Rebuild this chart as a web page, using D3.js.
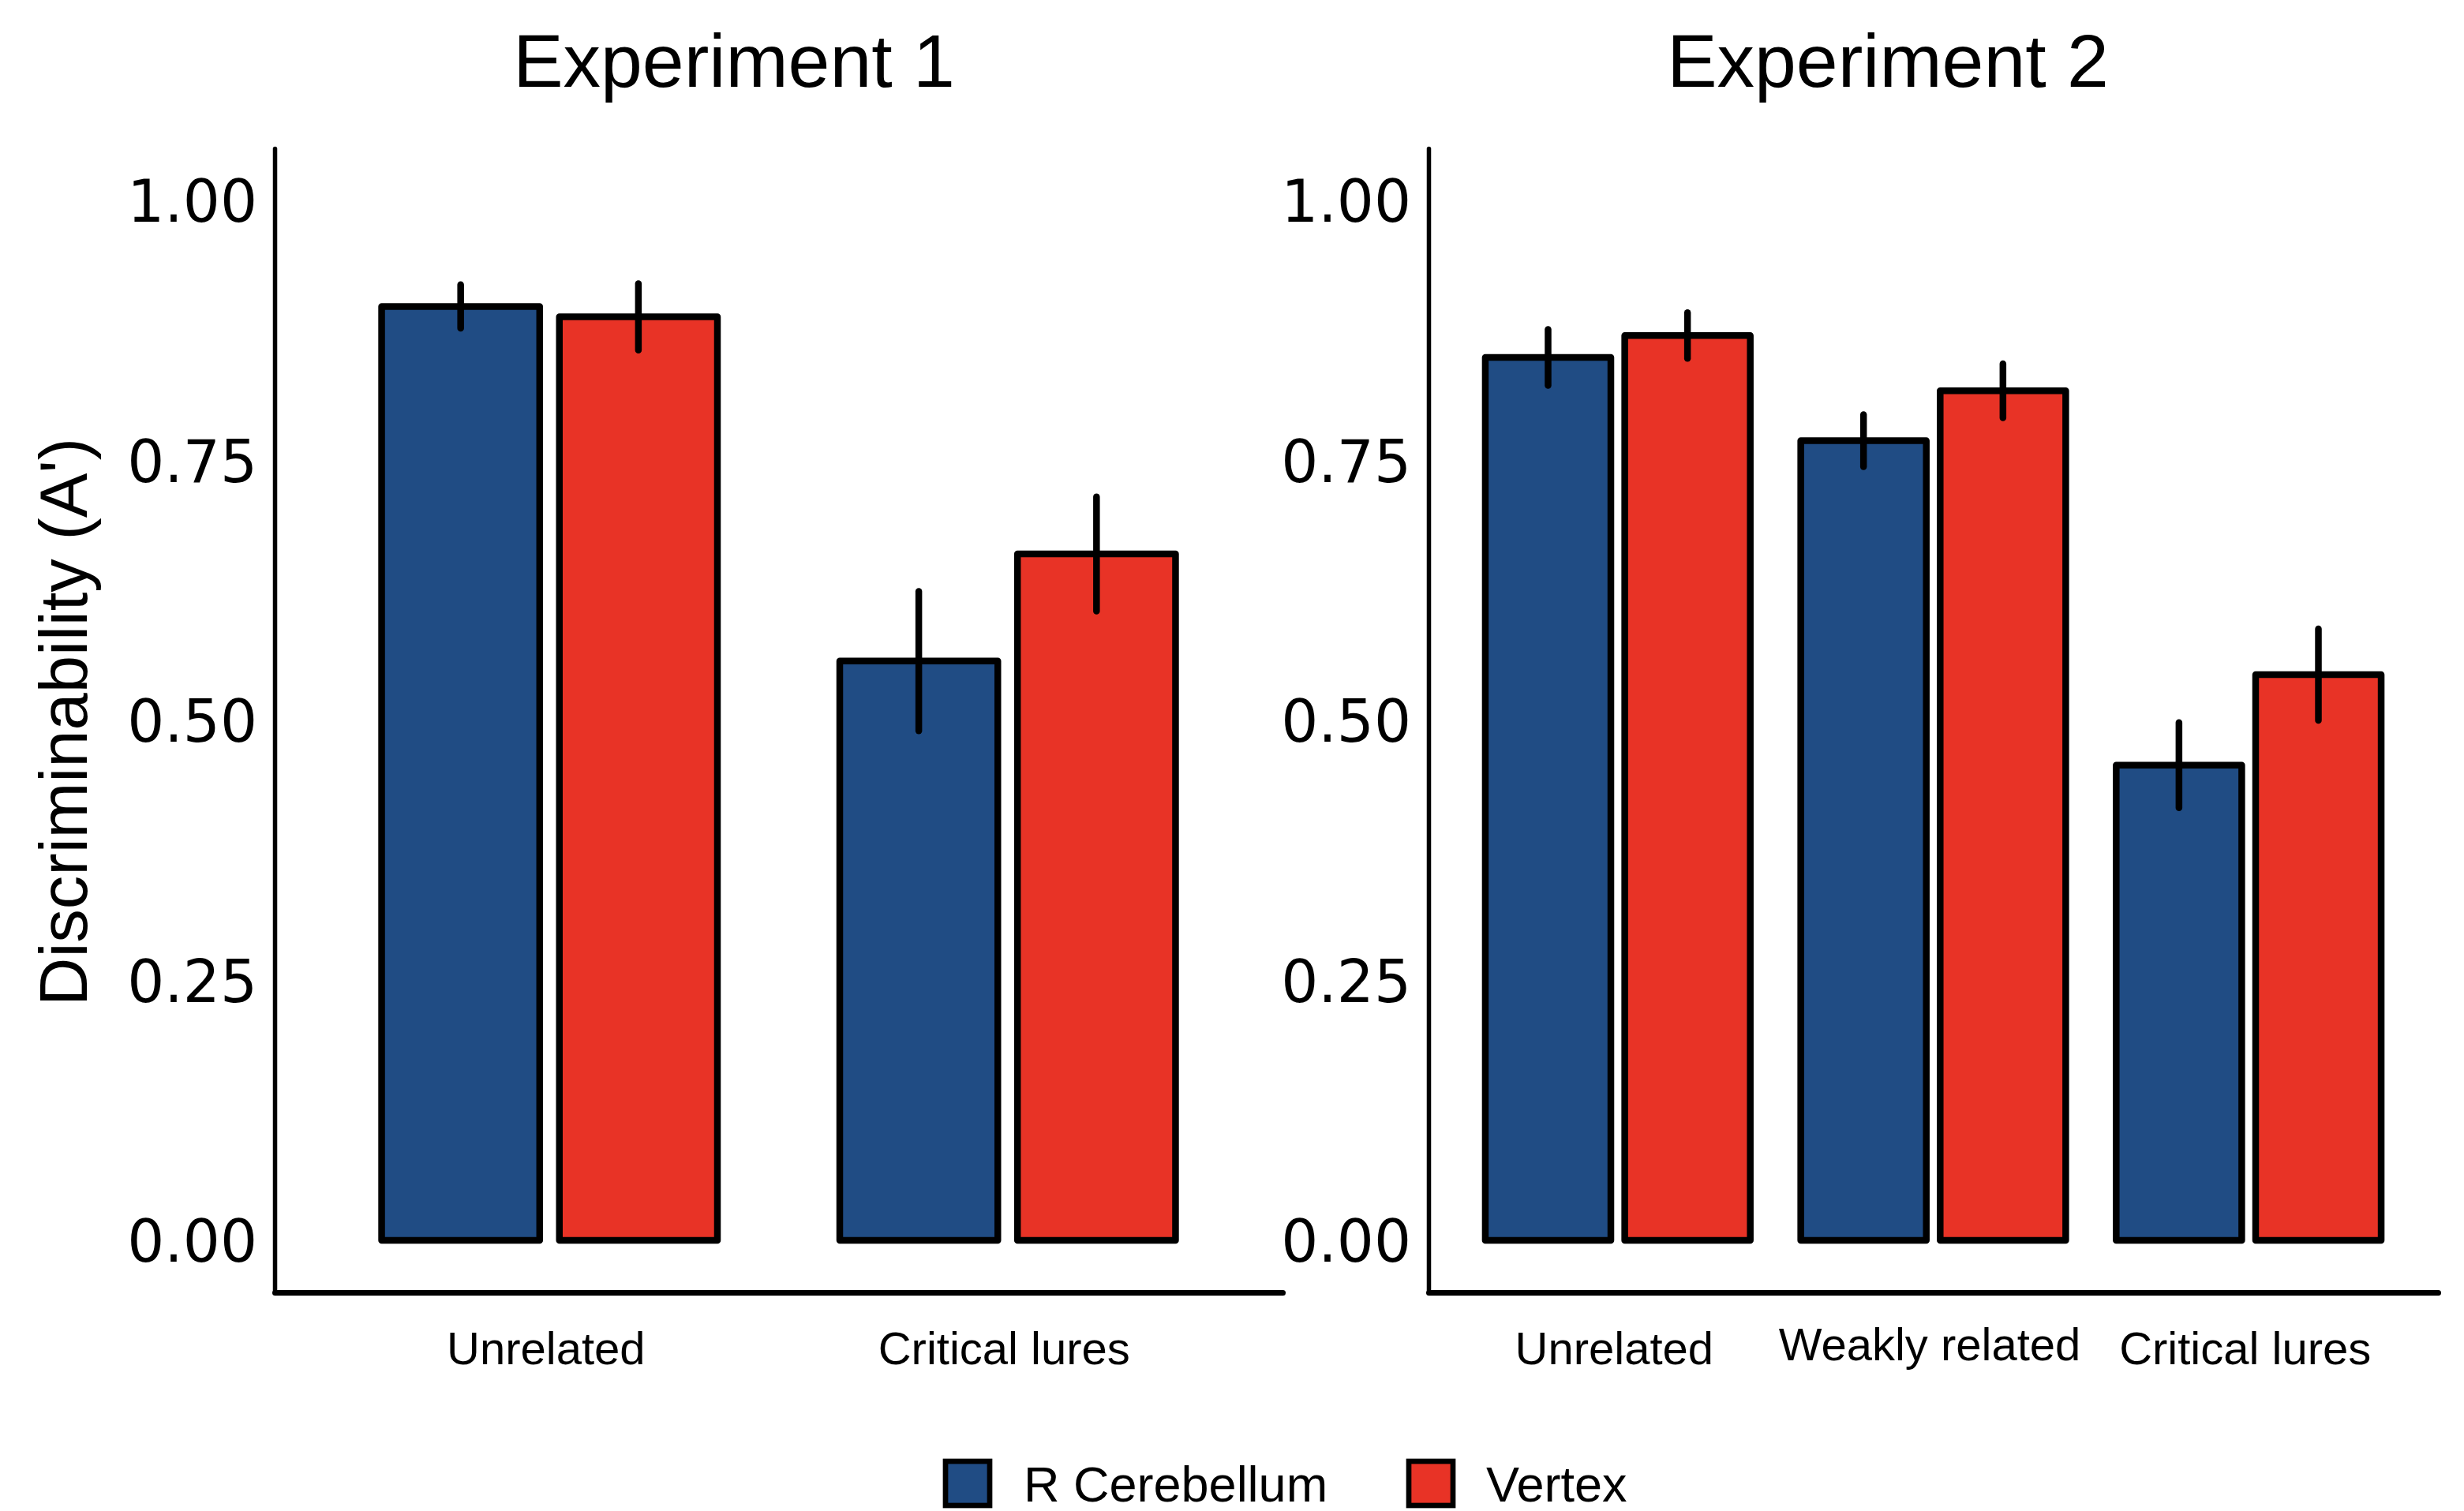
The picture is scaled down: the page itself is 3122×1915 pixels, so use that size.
<!DOCTYPE html>
<html>
<head>
<meta charset="utf-8">
<script src="https://cdn.jsdelivr.net/npm/d3@7"></script>
<style>
  body { margin: 0; background: #fff; }
</style>
</head>
<body>
<div class="chart"></div>
<script>
// values (A' means and error bars)
const groups = ["R Cerebellum", "Vertex"];
const groupColors = ["#204c84", "#e83326"];

const exp1Conditions = ["Unrelated", "Critical lures"];
const exp1Cerebellum = [0.898, 0.557];
const exp1Vertex = [0.888, 0.660];
const exp1CerebellumErr = [0.021, 0.067];
const exp1VertexErr = [0.032, 0.055];

const exp2Conditions = ["Unrelated", "Weakly related", "Critical lures"];
const exp2Cerebellum = [0.849, 0.769, 0.457];
const exp2Vertex = [0.870, 0.817, 0.544];
const exp2CerebellumErr = [0.027, 0.025, 0.041];
const exp2VertexErr = [0.022, 0.026, 0.044];

const yTicks = [0, 0.25, 0.5, 0.75, 1];
const titles = ["Experiment 1", "Experiment 2"];

const w = 3122;
const h = 1915;
const helv = "'Liberation Sans', Arial, Helvetica, sans-serif";
const dejavu = "'DejaVu Sans', Verdana, sans-serif";

const svg = d3.select('.chart')
    .append('svg')
    .attr('width', w)
    .attr('height', h);

// shared y scale (0..1 with 5% expansion, like ggplot)
const y = d3.scaleLinear()
    .domain([-0.05, 1.05])
    .range([1572 + 0.05 * 1318, 254 - 0.05 * 1318]);

const panels = [
    {title: titles[0], cats: exp1Conditions, vals: [exp1Cerebellum, exp1Vertex],
     errs: [exp1CerebellumErr, exp1VertexErr], x0: 348, x1: 1625, titleX: 930,
     barW: 0.345, dodge: 0.194},
    {title: titles[1], cats: exp2Conditions, vals: [exp2Cerebellum, exp2Vertex],
     errs: [exp2CerebellumErr, exp2VertexErr], x0: 1810, x1: 3089, titleX: 2392,
     barW: 0.398, dodge: 0.221}
];

panels.forEach(p => {
    const x = d3.scalePoint()
        .domain(p.cats)
        .range([p.x0, p.x1])
        .padding(0.6);
    const step = x.step();

    const g = svg.append('g');

    // flatten into bar records
    const bars = [];
    p.cats.forEach((c, i) => {
        groups.forEach((grp, j) => {
            bars.push({cat: c, group: j, value: p.vals[j][i], err: p.errs[j][i]});
        });
    });

    const cx = d => x(d.cat) + (d.group === 0 ? -1 : 1) * p.dodge * step;

    g.selectAll('rect.bar')
        .data(bars)
        .enter()
        .append('rect')
        .attr('class', 'bar')
        .attr('x', d => cx(d) - p.barW * step / 2)
        .attr('width', p.barW * step)
        .attr('y', d => y(d.value))
        .attr('height', d => y(0) - y(d.value))
        .attr('fill', d => groupColors[d.group])
        .attr('stroke', '#000')
        .attr('stroke-width', 8.5)
        .attr('stroke-linejoin', 'round');

    //error bars
    g.selectAll('line.err')
        .data(bars)
        .enter()
        .append('line')
        .attr('class', 'err')
        .attr('x1', cx)
        .attr('x2', cx)
        .attr('y1', d => y(d.value - d.err))
        .attr('y2', d => y(d.value + d.err))
        .attr('stroke', '#000')
        .attr('stroke-width', 8.5)
        .attr('stroke-linecap', 'round');

    // y axis
    const yAxis = g.append('g')
        .attr('transform', `translate(${p.x0},0)`)
        .call(d3.axisLeft(y).tickValues(yTicks).tickSize(0).tickPadding(22)
            .tickFormat(d3.format('.2f')));
    yAxis.attr('font-family', dejavu).attr('font-size', 74);
    yAxis.selectAll('text').attr('fill', '#000').attr('dy', '0.36em');
    yAxis.select('.domain').attr('stroke', '#000').attr('stroke-width', 5.5)
        .attr('stroke-linecap', 'round');

    // x axis
    const xAxis = g.append('g')
        .attr('transform', `translate(0,${y(-0.05)})`)
        .call(d3.axisBottom(x).tickSize(0).tickPadding(50));
    xAxis.attr('font-family', helv).attr('font-size', 58);
    xAxis.selectAll('text').attr('fill', '#000')
        .attr('x', -5)
        .attr('y', d => d === 'Weakly related' ? 45 : 50);
    xAxis.select('.domain').attr('stroke', '#000').attr('stroke-width', 7)
        .attr('stroke-linecap', 'round');

    svg.append('text')
        .text(p.title)
        .attr('x', p.titleX)
        .attr('y', 110)
        .attr('text-anchor', 'middle')
        .attr('font-family', helv)
        .attr('font-size', 95)
        .attr('fill', '#000');
});

// y axis title
svg.append('text')
    .text("Discriminability (A')")
    .attr('transform', 'translate(110,915) rotate(-90)')
    .attr('text-anchor', 'middle')
    .attr('font-family', helv)
    .attr('font-size', 85)
    .attr('fill', '#000');

// legend
const legendX = [1198, 1785];
const legend = svg.selectAll('g.legend')
    .data(groups)
    .enter()
    .append('g')
    .attr('class', 'legend')
    .attr('transform', (d, i) => `translate(${legendX[i]},1852)`);

legend.append('rect')
    .attr('width', 56)
    .attr('height', 56)
    .attr('fill', (d, i) => groupColors[i])
    .attr('stroke', '#000')
    .attr('stroke-width', 6.7);

legend.append('text')
    .text(d => d)
    .attr('x', (d, i) => i === 0 ? 99 : 98)
    .attr('y', 51)
    .attr('font-family', helv)
    .attr('font-size', 63)
    .attr('fill', '#000');
</script>
</body>
</html>
